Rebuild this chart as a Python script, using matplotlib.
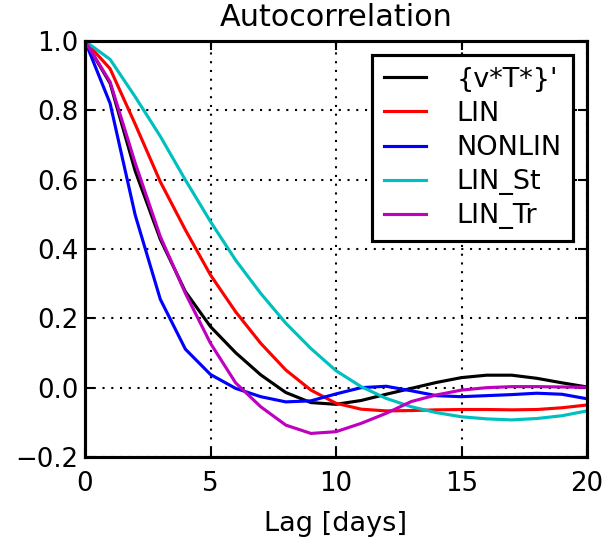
import matplotlib
matplotlib.use("Agg")
import matplotlib.pyplot as plt
import numpy as np

lags = list(range(0, 21))
vT = [1.0, 0.878, 0.625, 0.428, 0.277, 0.176, 0.101, 0.037, -0.014, -0.043, -0.048,
      -0.037, -0.019, -0.002, 0.015, 0.029, 0.036, 0.036, 0.027, 0.014, 0.002]
lin = [1.0, 0.920, 0.760, 0.594, 0.455, 0.325, 0.219, 0.128, 0.051, -0.007, -0.045,
       -0.062, -0.067, -0.066, -0.064, -0.063, -0.063, -0.064, -0.063, -0.058, -0.050]
nonlin = [1.0, 0.820, 0.498, 0.255, 0.111, 0.038, -0.002, -0.026, -0.041, -0.038, -0.018,
          0.000, 0.004, -0.009, -0.023, -0.026, -0.023, -0.020, -0.016, -0.019, -0.032]
lin_st = [1.0, 0.947, 0.839, 0.725, 0.599, 0.479, 0.368, 0.272, 0.186, 0.113, 0.049,
          0.003, -0.031, -0.055, -0.072, -0.084, -0.090, -0.093, -0.089, -0.081, -0.067]
lin_tr = [1.0, 0.882, 0.648, 0.436, 0.272, 0.128, 0.014, -0.055, -0.108, -0.132, -0.127,
          -0.103, -0.074, -0.040, -0.021, -0.007, 0.000, 0.003, 0.003, 0.002, 0.001]

series = [
    (vT, "k", "{v*T*}'"),
    (lin, "r", "LIN"),
    (nonlin, "b", "NONLIN"),
    (lin_st, "c", "LIN_St"),
    (lin_tr, "m", "LIN_Tr"),
]
colors = {"k": "#000000", "r": "#ff0000", "b": "#0000ff", "c": "#00bfbf", "m": "#bf00bf"}

plt.rcParams["font.family"] = "DejaVu Sans"
plt.rcParams["font.size"] = 12
plt.rcParams["axes.linewidth"] = 1.5

fig = plt.figure(figsize=(605 / 150, 539 / 150), dpi=150)
ax = fig.add_axes([85 / 605, 1 - 457 / 539, (587 - 85) / 605, (457 - 41) / 539])

for vals, c, lab in series:
    ax.plot(lags, vals, color=colors[c], lw=1.5, label=lab)

ax.set_xlim(0, 20)
ax.set_ylim(-0.2, 1.0)
ax.set_xticks([0, 5, 10, 15, 20])
ax.set_yticks([-0.2, 0.0, 0.2, 0.4, 0.6, 0.8, 1.0])
ax.grid(True, color="k", linestyle=(0, (1, 3.2)), linewidth=1.0)
ax.tick_params(direction="in", length=4.5, width=1.0, top=True, right=True,
               labelsize=12.5)
ax.tick_params(axis="y", pad=3)
ax.tick_params(axis="x", pad=6.5)
ax.set_xlabel("Lag [days]", fontsize=13, labelpad=7)
ax.set_title("Autocorrelation", fontsize=14.5, pad=7)

leg = ax.legend(loc="upper right", fontsize=13, fancybox=False, framealpha=1,
                edgecolor="k", handlelength=1.55, handletextpad=1.1,
                labelspacing=0.3, borderaxespad=0.5, borderpad=0.45)
leg.get_frame().set_linewidth(1.5)

fig.savefig("out.png", dpi=150)
